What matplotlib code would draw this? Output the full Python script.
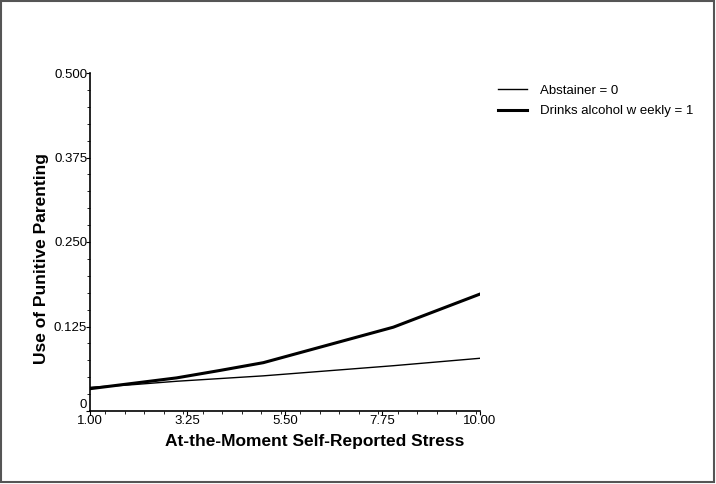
import numpy as np
import matplotlib
matplotlib.use('Agg')
from matplotlib import pyplot as plt
from matplotlib.ticker import MultipleLocator
from matplotlib.patches import Rectangle

plt.rcParams['font.family'] = ['Liberation Sans', 'DejaVu Sans']

# 데이터
stress = [1, 2, 3, 4, 5, 8, 10]
abstainer = [0.035, 0.039, 0.044, 0.048, 0.052, 0.067, 0.078]
drinker = [0.033, 0.041, 0.049, 0.060, 0.0715, 0.124, 0.173]

x_ticks = [1.00, 3.25, 5.50, 7.75, 10.00]
x_ticklabels = ['1.00', '3.25', '5.50', '7.75', '10.00']
y_ticks = [0, 0.125, 0.250, 0.375, 0.500]
y_ticklabels = ['0', '0.125', '0.250', '0.375', '0.500']

fig = plt.figure(figsize=(7.16, 4.84), dpi=100)
ax = fig.add_axes([90/716, 73/484, 390/716, 338/484])

ax.plot(stress, abstainer, color='black', lw=1.0, label='Abstainer = 0')
ax.plot(stress, drinker, color='black', lw=2.2, label='Drinks alcohol w eekly = 1')

ax.set_xlim(1, 10)
ax.set_ylim(0, 0.5)
ax.set_xticks(x_ticks)
ax.set_xticklabels(x_ticklabels)
ax.set_yticks(y_ticks)
ax.set_yticklabels(y_ticklabels)
ax.xaxis.set_minor_locator(MultipleLocator(0.45))
ax.yaxis.set_minor_locator(MultipleLocator(0.025))

for s in ['top', 'right']:
    ax.spines[s].set_visible(False)
ax.spines['left'].set_linewidth(1.2)
ax.spines['bottom'].set_linewidth(1.2)

ax.tick_params(axis='both', which='major', direction='out', length=3, width=0.8,
               labelsize=9.5, pad=-1)
ax.tick_params(axis='both', which='minor', direction='out', length=2, width=0.6)
ax.tick_params(axis='x', pad=0)
# "0" 라벨은 눈금 위쪽에
ax.get_yticklabels()[0].set_va('bottom')

ax.set_xlabel('At-the-Moment Self-Reported Stress', fontsize=12.5, fontweight='bold')
ax.set_ylabel('Use of Punitive Parenting', fontsize=12.5, fontweight='bold')
# 축 제목 위치 (원본처럼 약간 치우침)
ax.xaxis.set_label_coords((315 - 90) / 390, -(434 - 411) / 338)
ax.yaxis.set_label_coords(-(90 - 49) / 390, (411 - 258) / 338)

ax.legend(loc='upper left', bbox_to_anchor=(1.0 + 6/390, 1.0), frameon=False, fontsize=9.5,
          handlelength=2.2, handletextpad=1.0, labelspacing=0.6)

# 그림 테두리
fig.patches.append(Rectangle((0.5/716, 2/484), 713/716, 481/484, transform=fig.transFigure,
                             fill=False, edgecolor='#555555', lw=1.5))

plt.savefig('out.png', dpi=100)
